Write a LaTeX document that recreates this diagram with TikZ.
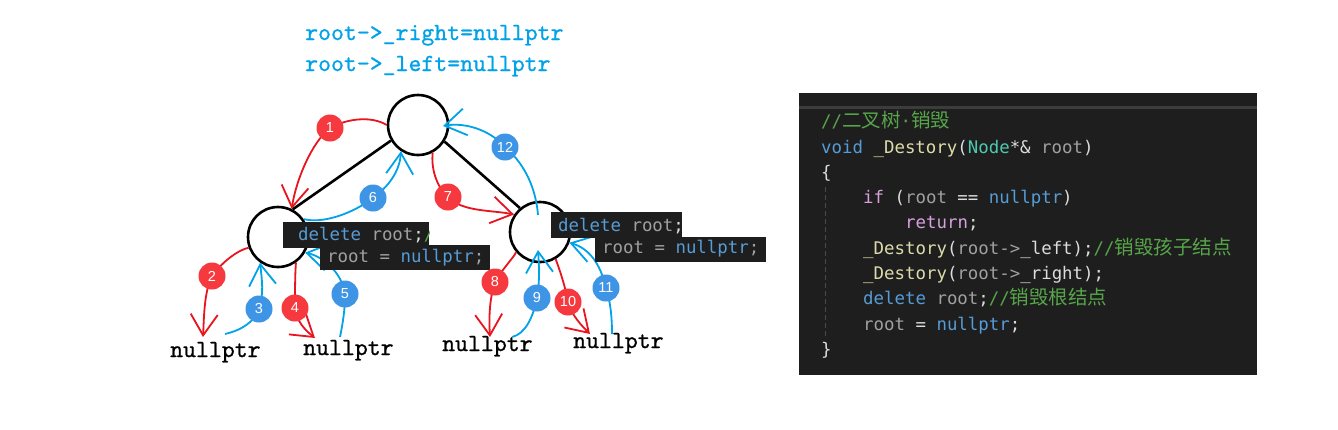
\documentclass[tikz,border=0pt]{standalone}
\usepackage{fontspec}
\usetikzlibrary{arrows.meta}
\setmainfont{Liberation Sans}
\newfontfamily\codefont{DejaVu Sans Mono}
\newfontfamily\cjkfont{Noto Sans CJK SC}
\newfontfamily\simfont[FakeBold=0.8]{lmmono10-regular.otf}
\definecolor{codebg}{HTML}{1E1E1E}
\definecolor{codetx}{HTML}{DCDCDC}
\definecolor{ckw}{HTML}{569CD6}
\definecolor{cctl}{HTML}{D8A0DF}
\definecolor{cfn}{HTML}{DCDCAA}
\definecolor{cty}{HTML}{4EC9B0}
\definecolor{cpa}{HTML}{A0A0A0}
\definecolor{ccm}{HTML}{57A64A}
\definecolor{guide}{HTML}{4A4A4A}
\definecolor{topline}{HTML}{3C3C3C}
\definecolor{penred}{HTML}{E8141E}
\definecolor{penblue}{HTML}{00A2E8}
\definecolor{badred}{HTML}{F5393E}
\definecolor{badblue}{HTML}{3E95E6}
\newcommand\cKw[1]{\textcolor{ckw}{#1}}
\newcommand\cCt[1]{\textcolor{cctl}{#1}}
\newcommand\cFn[1]{\textcolor{cfn}{#1}}
\newcommand\cTy[1]{\textcolor{cty}{#1}}
\newcommand\cPa[1]{\textcolor{cpa}{#1}}
\newcommand\cCm[1]{\textcolor{ccm}{#1}}
\newcommand\cZh[1]{{\cjkfont\fontsize{19.5}{20}\selectfont #1}}
\tikzset{
  treenode/.style={circle, draw=black, line width=2.6pt, minimum size=60pt, inner sep=0pt},
  treeedge/.style={line width=2.6pt, black},
  redarr/.style={penred, line width=1.8pt, -{Straight Barb[length=21pt,width=27pt]}},
  bluearr/.style={penblue, line width=1.8pt, -{Straight Barb[length=21pt,width=27pt]}},
  badge/.style={circle, inner sep=0pt, minimum size=27pt, text=white, font=\fontsize{14.5}{14.5}\selectfont},
  rbadge/.style={badge, fill=badred},
  bbadge/.style={badge, fill=badblue},
  codeln/.style={anchor=base west, inner sep=0pt, text=codetx, font=\codefont\fontsize{17.4}{20}\selectfont},
  simtext/.style={anchor=base west, inner sep=0pt, font=\simfont\fontsize{24.6}{26}\selectfont},
}
\begin{document}
\begin{tikzpicture}[x=1pt,y=-1pt]
\useasboundingbox (0,0) rectangle (1338,429);
\fill[white] (0,0) rectangle (1338,429);

% top annotations
\node[simtext, text=penblue] (topR) at (305,40) {root->\_right=nullptr};
\node[simtext, text=penblue] (topL) at (305,71) {root->\_left=nullptr};

% tree
\node[treenode] (R) at (418,125) {};
\node[treenode] (L) at (278,237) {};
\node[treenode] (Rt) at (540,232) {};
\draw[treeedge] (R.210) -- (L.62);
\draw[treeedge] (R.328) -- (Rt.130);

% nullptr labels
\node[simtext] (N1) at (170,357) {nullptr};
\node[simtext] (N2) at (303,355) {nullptr};
\node[simtext] (N3) at (442,351) {nullptr};
\node[simtext] (N4) at (573,348) {nullptr};

% badge positions (badges drawn later on top)
\coordinate (p1) at (330,128);
\coordinate (p2) at (212,276);
\coordinate (p3) at (259,309);
\coordinate (p4) at (295,308);
\coordinate (p5) at (345,294);
\coordinate (p6) at (373,198);
\coordinate (p7) at (448,197);
\coordinate (p8) at (495,282);
\coordinate (p9) at (537,298);
\coordinate (p10) at (568,302);
\coordinate (p11) at (606,288);
\coordinate (p12) at (505,147);

% free ends
\coordinate (t2) at (203,337);
\coordinate (s3) at (225,334);
\coordinate (t4) at (315,338);
\coordinate (s5) at (340,337);
\coordinate (t8) at (490,337);
\coordinate (s9) at (512,337);
\coordinate (t9) at (538,250);
\coordinate (t10) at (590,334);
\coordinate (s11) at (612,334);
\coordinate (s12) at (538,215);
\coordinate (t12) at (443,126);

% arrows
\draw[redarr] (R.180) .. controls (372,116) and (348,118) .. (p1) .. controls (312,142) and (296,180) .. (L.64);
\draw[redarr] (L.200) .. controls (238,250) and (222,262) .. (p2) .. controls (204,292) and (204,318) .. (t2);
\draw[bluearr] (s3) .. controls (242,330) and (254,322) .. (p3) .. controls (264,294) and (262,280) .. (L.235);
\draw[redarr] (L.305) .. controls (295,275) and (295,290) .. (p4) .. controls (297,322) and (305,330) .. (t4);
\draw[bluearr] (s5) .. controls (343,322) and (345,310) .. (p5) .. controls (342,272) and (322,256) .. (L.330);
\draw[bluearr] (L.35) .. controls (322,224) and (352,214) .. (p6) .. controls (392,184) and (400,168) .. (R.237);
\draw[redarr] (R.298) .. controls (431,168) and (436,186) .. (p7) .. controls (462,212) and (492,210) .. (Rt.146);
\draw[redarr] (Rt.220) .. controls (515,256) and (503,268) .. (p8) .. controls (489,300) and (489,320) .. (t8);
\draw[bluearr] (s9) .. controls (525,334) and (533,318) .. (p9) .. controls (540,280) and (539,265) .. (t9);
\draw[redarr] (Rt.300) .. controls (559,268) and (565,285) .. (p10) .. controls (572,316) and (582,326) .. (t10);
\draw[bluearr] (s11) .. controls (612,315) and (610,300) .. (p11) .. controls (600,262) and (588,248) .. (Rt.340);
\draw[bluearr] (s12) .. controls (536,190) and (526,165) .. (p12) .. controls (490,130) and (465,122) .. (t12);

% code snippets in diagram
\fill[codebg] (283,222) rectangle (429,248);
\begin{scope}
\clip (283,222) rectangle (429,248);
\node[codeln] (dl1) at (298,240) {\cKw{delete} \cPa{root};\cCm{/}};
\end{scope}
\fill[codebg] (320,245) rectangle (490,270);
\node[codeln] (nl1) at (327,262) {\cPa{root =} \cKw{nullptr}\cPa{;}};
\fill[codebg] (551,212) rectangle (682,238);
\node[codeln] (dl2) at (558,231.5) {\cKw{delete} \cPa{root};};
\fill[codebg] (595,237) rectangle (766,262);
\node[codeln] (nl2) at (602,253) {\cPa{root =} \cKw{nullptr}\cPa{;}};

% badges
\node[rbadge] (b1) at (p1) {1};
\node[rbadge] (b2) at (p2) {2};
\node[bbadge] (b3) at (p3) {3};
\node[rbadge] (b4) at (p4) {4};
\node[bbadge] (b5) at (p5) {5};
\node[bbadge] (b6) at (p6) {6};
\node[rbadge] (b7) at (p7) {7};
\node[rbadge] (b8) at (p8) {8};
\node[bbadge] (b9) at (p9) {9};
\node[rbadge] (b10) at (p10) {10};
\node[bbadge] (b11) at (p11) {11};
\node[bbadge] (b12) at (p12) {12};

% code panel
\fill[codebg] (799,93) rectangle (1257,375);
\draw[topline, line width=2.5pt] (799,107.5) -- (1257,107.5);
\draw[guide, line width=1pt, dash pattern=on 5pt off 3pt] (825,187) -- (825,337);
\node[codeln] (c1) at (821,127.7) {\cCm{//\cZh{二叉树}·\cZh{销毁}}};
\node[codeln] (c2) at (821,153) {\cKw{void} \cFn{\_Destory}(\cTy{Node}*\& \cPa{root})};
\node[codeln] (c3) at (821,178.3) {\{};
\node[codeln] (c4) at (863,203.6) {\cCt{if} (\cPa{root} == \cKw{nullptr})};
\node[codeln] (c5) at (905,228.9) {\cCt{return};};
\node[codeln] (c6) at (863,254.2) {\cFn{\_Destory}(\cPa{root->}\_left);\cCm{//\cZh{销毁孩子结点}}};
\node[codeln] (c7) at (863,279.5) {\cFn{\_Destory}(\cPa{root->}\_right);};
\node[codeln] (c8) at (863,304.8) {\cKw{delete} \cPa{root};\cCm{//\cZh{销毁根结点}}};
\node[codeln] (c9) at (863,330.1) {\cPa{root} = \cKw{nullptr};};
\node[codeln] (c10) at (821,355.4) {\}};
\end{tikzpicture}
\end{document}
